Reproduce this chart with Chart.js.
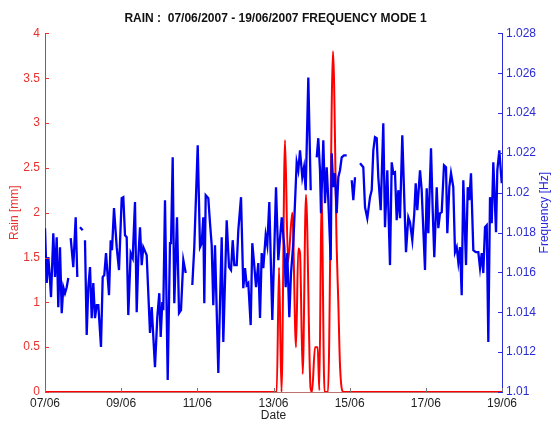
<!DOCTYPE html>
<html>
<head>
<meta charset="utf-8">
<script src="https://cdn.jsdelivr.net/npm/chart.js@4.4.0/dist/chart.umd.min.js"></script>
<style>
  html, body { margin: 0; padding: 0; background: #fff; }
</style>
</head>
<body>
<canvas id="rainChart" width="551" height="423"></canvas>
<script>
// Rain (mm) - time in decimal days of June
const rainDays = [7.0, 13.084, 13.145, 13.210, 13.302, 13.381, 13.494, 13.591, 13.651, 13.696,
  13.767, 13.853, 13.972, 14.011, 14.090, 14.161, 14.203, 14.261, 14.339, 14.431,
  14.562, 14.660, 14.702, 14.746, 14.838, 19.0];
const rainValues = [0, 0, 1.39, 0, 2.81, 1.45, 2.0, 0.5, 1.6, 1.55,
  0.2, 2.2, 0.05, 0, 0.5, 0.5, 0.02, 2.2, 0, 0,
  3.8, 1.6, 1.0, 0.3, 0, 0];

// Frequency mode 1 (Hz) - null = missing data
const freqDays = [
  7.000, 7.045, 7.087, 7.131, 7.158, 7.218, 7.263, 7.307, 7.349, 7.394, 7.439, 7.481, 7.525, 7.570, 7.612,
  7.640, 7.675, 7.743, 7.806, 7.848, 7.880, 7.919, 7.990, 8.020,
  8.050, 8.095, 8.137, 8.182, 8.226, 8.268, 8.313, 8.358, 8.400, 8.470, 8.515, 8.557, 8.602, 8.681, 8.725,
  8.759, 8.812, 8.883, 8.943, 9.014, 9.056, 9.101, 9.145, 9.187, 9.250, 9.303, 9.363, 9.408, 9.450, 9.495,
  9.539, 9.581, 9.670, 9.757, 9.802, 9.888, 9.949, 10.001, 10.038, 10.080, 10.106, 10.151, 10.222, 10.282,
  10.309, 10.353, 10.395, 10.466, 10.519, 10.571, 10.632, 10.695, 10.780,
  10.868, 10.920, 11.010, 11.070, 11.115, 11.157, 11.183, 11.220, 11.288, 11.333, 11.377, 11.419, 11.464,
  11.551, 11.595, 11.640, 11.682, 11.771, 11.832, 11.884, 11.929, 11.971, 12.034, 12.076, 12.147, 12.207,
  12.252, 12.296, 12.338, 12.401, 12.443, 12.488, 12.541, 12.601, 12.646, 12.690, 12.732, 12.795, 12.837,
  12.890, 12.969, 13.066, 13.126, 13.216, 13.284, 13.320, 13.362, 13.415, 13.460, 13.520, 13.609, 13.651,
  13.696, 13.756, 13.801, 13.846, 13.914, 13.977, 14.050,
  14.135, 14.176, 14.221, 14.247, 14.308, 14.353, 14.397, 14.439, 14.502, 14.528, 14.570, 14.615, 14.660,
  14.702, 14.746, 14.791, 14.851, 14.922, 14.990, 15.054, 15.096, 15.140, 15.200,
  15.272, 15.358, 15.403, 15.463, 15.534, 15.579, 15.621, 15.665, 15.710, 15.752, 15.815, 15.883, 15.928,
  15.988, 16.059, 16.104, 16.146, 16.190, 16.235, 16.277, 16.322, 16.382, 16.435, 16.479, 16.540, 16.584,
  16.645, 16.697, 16.734, 16.776, 16.847, 16.891, 16.978, 17.023, 17.065, 17.136, 17.180, 17.222, 17.286,
  17.328, 17.372, 17.417, 17.477, 17.530, 17.564, 17.617, 17.661, 17.721, 17.766, 17.811, 17.853, 17.897,
  17.942, 17.984, 18.055, 18.100, 18.142, 18.186, 18.247, 18.310, 18.378, 18.423, 18.467, 18.509, 18.554,
  18.599, 18.641, 18.685, 18.730, 18.772, 18.843, 18.877, 18.930, 18.993
];
const freqValues = [
  1.01822, 1.01547, 1.01677, 1.01562, 1.01476, 1.01797, 1.01577, 1.01777, 1.01426, 1.01727, 1.01396, 1.01526, 1.01496, 1.01526, 1.01572,
  null, 1.01772, 1.01627, 1.01877, 1.01577, null, 1.01827, 1.01812, null,
  1.01762, 1.01286, 1.01526, 1.01627, 1.01371, 1.01547, 1.01371, 1.01436, 1.01436, 1.01226, 1.01577, 1.01587, 1.01697, 1.01486, 1.01762,
  1.01712, 1.01923, 1.01727, 1.01612, 1.01973, 1.01978, 1.01787, 1.01777, 1.01386, 1.01697, 1.01672, 1.01953, 1.01401, 1.01672, 1.01827,
  1.01637, 1.01727, 1.01687, 1.01296, 1.01426, 1.01125, 1.01376, 1.01496, 1.01276, 1.01451, 1.01411, 1.01963, 1.01060, 1.01747,
  1.01747, 1.02178, 1.01446, 1.01877, 1.01396, 1.01411, 1.01662, 1.01597, null,
  1.01537, 1.01727, 1.02238, 1.01727, 1.01747, 1.01877, 1.01446, 1.01988, 1.01973, 1.01847, 1.01737, 1.01436, 1.01737,
  1.01095, 1.01446, 1.01777, 1.01251, 1.01862, 1.01627, 1.01612, 1.01762, 1.01637, 1.01637, 1.01812, 1.01978, 1.01521,
  1.01622, 1.01537, 1.01547, 1.01336, 1.01747, 1.01652, 1.01526, 1.01647, 1.01371, 1.01697, 1.01622, 1.01787, 1.01737,
  1.01953, 1.01361, 1.02028, 1.01662, 1.01877, 1.01727, 1.01526, 1.01697, 1.01376, 1.01597, 1.01747, 1.02153, 1.02113,
  1.02213, 1.02078, 1.02128, 1.02013, 1.02579, 1.02013, null,
  1.02178, 1.02274, 1.02113, 1.01897, 1.02264, 1.01948, 1.02128, 1.01963, 1.01662, 1.02198, 1.02028, 1.02098, 1.01897,
  1.02078, 1.02113, 1.02178, 1.02188, 1.02188, null, 1.02063, 1.01963, 1.02078, null,
  1.02148, 1.02128, 1.01928, 1.01872, 1.01978, 1.02013, 1.02213, 1.02279, 1.02274, 1.02078, 1.01913, 1.02349, 1.01827,
  1.02113, 1.01637, 1.02153, 1.02098, 1.02103, 1.01862, 1.02013, 1.01872, 1.02289, 1.01963, 1.01702, 1.01877, 1.01852,
  1.01762, 1.01897, 1.02048, 1.01913, 1.02113, 1.02013, 1.01612, 1.02023, 1.01797, 1.02223, 1.01913, 1.01677, 1.02028,
  1.01822, 1.01897, 1.01903, 1.02138, 1.02128, 1.01797, 1.02028, 1.02098, 1.02028, 1.01702, 1.01727, 1.01652, 1.01727,
  1.01486, 1.02063, 1.01637, 1.02028, 1.01963, 1.02098, 1.01712, 1.01702, 1.01702, 1.01622, 1.01697, 1.01597, 1.01827,
  1.01837, 1.01251, 1.01978, 1.01847, 1.02153, 1.01802, 1.02113, 1.02213, 1.02048
];

// Axis ticks
const dateTicks = [7, 9, 11, 13, 15, 17, 19];
const dateLabels = ["07/06", "09/06", "11/06", "13/06", "15/06", "17/06", "19/06"];
const titleText = "RAIN :  07/06/2007 - 19/06/2007 FREQUENCY MODE 1";

const FONT = "'Liberation Sans', Arial, Helvetica, sans-serif";
const RED = "#ff0000";
const RED_TXT = "#e8322e";
const BLUE = "#0000f0";
const BLUE_TXT = "#2a2ad8";

// MATLAB style inward tick marks + right hand y label
const matlabAxes = {
  id: "matlabAxes",
  afterDraw(chart) {
    const { ctx, chartArea: a, scales } = chart;
    ctx.save();
    ctx.lineWidth = 1;
    ctx.strokeStyle = RED_TXT;
    scales.rain.ticks.forEach(t => {
      const y = Math.round(scales.rain.getPixelForValue(t.value)) + 0.5;
      ctx.beginPath(); ctx.moveTo(a.left, y); ctx.lineTo(a.left + 4, y); ctx.stroke();
    });
    ctx.strokeStyle = BLUE_TXT;
    scales.freq.ticks.forEach(t => {
      const y = Math.round(scales.freq.getPixelForValue(t.value)) + 0.5;
      ctx.beginPath(); ctx.moveTo(a.right, y); ctx.lineTo(a.right - 4, y); ctx.stroke();
    });
    ctx.strokeStyle = "#777";
    scales.x.ticks.forEach(t => {
      const x = Math.round(scales.x.getPixelForValue(t.value)) + 0.5;
      ctx.beginPath(); ctx.moveTo(x, a.bottom); ctx.lineTo(x, a.bottom - 4); ctx.stroke();
    });
    // right axis title reads bottom to top
    ctx.translate(scales.freq.right - 6, (a.top + a.bottom) / 2);
    ctx.rotate(-Math.PI / 2);
    ctx.fillStyle = BLUE_TXT;
    ctx.font = "12px " + FONT;
    ctx.textAlign = "center";
    ctx.textBaseline = "middle";
    ctx.fillText("Frequency [Hz]", 0, 0);
    ctx.restore();
  }
};

const ctx = document.getElementById("rainChart").getContext("2d");
const rainChart = new Chart(ctx, {
  type: "line",
  data: {
    datasets: [
      {
        label: "Frequency",
        data: freqDays.map((d, i) => ({ x: d, y: freqValues[i] })),
        yAxisID: "freq",
        borderColor: BLUE,
        borderWidth: 2.3,
        pointRadius: 0,
        tension: 0,
        spanGaps: false,
        order: 0
      },
      {
        label: "Rain",
        data: rainDays.map((d, i) => ({ x: d, y: rainValues[i] })),
        yAxisID: "rain",
        borderColor: RED,
        borderWidth: 2,
        pointRadius: 0,
        cubicInterpolationMode: "monotone",
        order: 1
      }
    ]
  },
  options: {
    responsive: false,
    animation: false,
    layout: { padding: 0 },
    plugins: {
      legend: { display: false },
      tooltip: { enabled: false },
      title: {
        display: true,
        text: titleText,
        color: "#111",
        font: { family: FONT, size: 12, weight: "bold" },
        padding: { top: 11, bottom: 8 }
      }
    },
    scales: {
      x: {
        type: "linear",
        min: 7,
        max: 19,
        afterBuildTicks: s => { s.ticks = dateTicks.map(v => ({ value: v })); },
        ticks: {
          autoSkip: false,
          maxRotation: 0,
          padding: 4,
          color: "#222",
          font: { family: FONT, size: 12 },
          callback: (v, i) => dateLabels[i]
        },
        grid: { display: false, drawTicks: false },
        border: { color: "#c07070" },
        title: {
          display: true,
          text: "Date",
          color: "#222",
          font: { family: FONT, size: 12 },
          padding: { top: 0, bottom: 0 }
        },
        afterFit: s => { s.height = 31; }
      },
      rain: {
        type: "linear",
        position: "left",
        min: 0,
        max: 4,
        ticks: {
          stepSize: 0.5,
          padding: 5,
          color: RED_TXT,
          font: { family: FONT, size: 12 },
          callback: v => String(v)
        },
        grid: { display: false, drawTicks: false },
        border: { color: RED_TXT },
        title: {
          display: true,
          text: "Rain [mm]",
          color: RED_TXT,
          font: { family: FONT, size: 12 },
          padding: { top: 7, bottom: 0 }
        },
        afterFit: s => { s.width = 45; }
      },
      freq: {
        type: "linear",
        position: "right",
        min: 1.01,
        max: 1.028,
        ticks: {
          stepSize: 0.002,
          padding: 4,
          color: BLUE_TXT,
          font: { family: FONT, size: 12 },
          callback: v => String(+v.toFixed(3))
        },
        grid: { display: false, drawTicks: false },
        border: { color: BLUE_TXT },
        afterFit: s => { s.width = 49; }
      }
    }
  },
  plugins: [matlabAxes]
});
</script>
</body>
</html>
